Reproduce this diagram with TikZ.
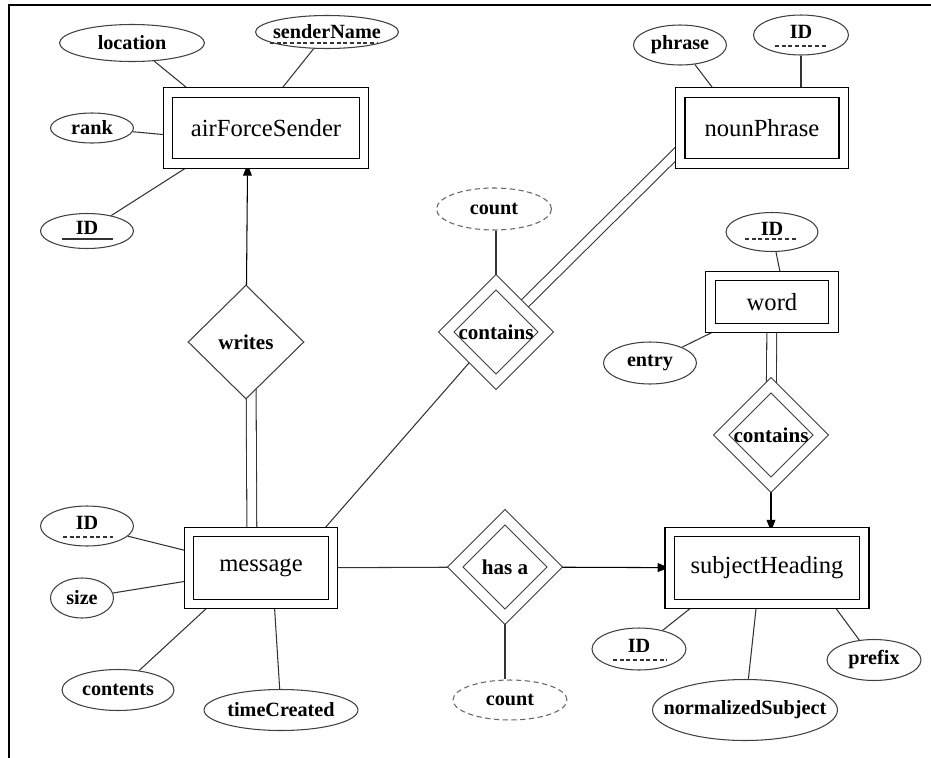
\documentclass[tikz,border=0pt]{standalone}
\usepackage{fontspec}
\setmainfont{Liberation Serif}
\usetikzlibrary{shapes.geometric,arrows.meta,backgrounds,calc}

\newcommand{\erlbl}[1]{\makebox[0pt]{#1}}
\newcommand{\erkey}[1]{\makebox[0pt]{\raisebox{-2pt}[0pt][0pt]{#1}}}

\tikzset{
  entity/.style={rectangle, draw=black, line width=0.8pt, double, double distance=4.6pt, fill=white, inner sep=0pt, font=\fontsize{14}{16}\selectfont},
  attr/.style={ellipse, draw=black!75, line width=0.6pt, fill=white, inner sep=0pt, font=\fontsize{11.5}{13}\bfseries},
  derived/.style={attr, draw=black!60, dash pattern=on 3pt off 2pt},
  rel/.style={diamond, draw=black!75, line width=0.6pt, fill=white, inner sep=0pt, minimum width=2.32cm, minimum height=2.28cm, font=\fontsize{12}{14}\bfseries},
  weakrel/.style={rel, double, double distance=5.6pt, minimum width=2cm, minimum height=2cm},
  link/.style={draw=black!80, line width=0.6pt},
  total/.style={link, double, double distance=5pt},
  arr/.style={link, draw=black, -{Triangle[length=6.5pt,width=5pt]}},
  keyline/.style={draw=black!80, line width=0.6pt},
  partline/.style={keyline, dash pattern=on 2.2pt off 1.6pt}
}

\begin{document}
\begin{tikzpicture}[x=0.02cm, y=-0.02cm]

    \useasboundingbox (0,0) rectangle (931,758);

    % frame on top and left
    \draw[line width=1.3pt] (9,758) -- (9,5) -- (931,5);

    % entities

    \node[entity, minimum width=3.92cm, minimum height=1.42cm] (sender) at (266,128) {airForceSender};
    \node[entity, minimum width=2.88cm, minimum height=1.44cm] (msg) at (261,568) {message};
    \node[entity, minimum width=3.89cm, minimum height=1.44cm] (subj) at (767,568) {subjectHeading};
    \node[entity, minimum width=3.27cm, minimum height=1.42cm] (np) at (762,128) {nounPhrase};
    \node[entity, minimum width=2.46cm, minimum height=1.04cm] (word) at (772,302) {word};

    % relationships

    \node[rel] (writes) at (246,342) {\erlbl{writes}};
    \node[weakrel] (hasa) at (505,567) {\erlbl{has a}};
    \node[weakrel] (cont1) at (496,332) {\erlbl{contains}};
    \node[weakrel] (cont2) at (771,435) {\erlbl{contains}};

    % attributes of airForceSender

    \node[attr, minimum width=2.9cm, minimum height=0.74cm] (loc) at (132,43) {\erlbl{location}};
    \node[attr, minimum width=2.86cm, minimum height=0.66cm] (sname) at (327,32) {\erlbl{senderName}};
    \node[attr, minimum width=1.66cm, minimum height=0.6cm] (rank) at (92,128) {\erlbl{rank}};
    \node[attr, minimum width=1.86cm, minimum height=0.7cm] (sid) at (87,231) {\erkey{ID}};

    % attributes of message

    \node[attr, minimum width=1.86cm, minimum height=0.8cm] (mid) at (87,526) {\erkey{ID}};
    \node[attr, minimum width=1.26cm, minimum height=0.8cm] (size) at (82,598) {\erlbl{size}};
    \node[attr, minimum width=2.24cm, minimum height=0.82cm] (cnts) at (118,690) {\erlbl{contents}};
    \node[attr, minimum width=3.08cm, minimum height=0.82cm] (tcr) at (281,710) {\erlbl{timeCreated}};

    % attributes of subjectHeading

    \node[attr, minimum width=1.88cm, minimum height=0.84cm] (hid) at (639,649) {\erkey{ID}};
    \node[attr, minimum width=3.7cm, minimum height=1.22cm] (norm) at (745,710) {\erlbl{normalizedSubject}};
    \node[attr, minimum width=1.88cm, minimum height=0.82cm] (pref) at (874,660) {\erlbl{prefix}};

    % attributes of nounPhrase and word

    \node[attr, minimum width=1.86cm, minimum height=0.8cm] (phr) at (680,45) {\erlbl{phrase}};
    \node[attr, minimum width=1.9cm, minimum height=0.8cm] (nid) at (801,35) {\erkey{ID}};
    \node[attr, minimum width=1.84cm, minimum height=0.78cm] (wid) at (772,232) {\erkey{ID}};
    \node[attr, minimum width=1.86cm, minimum height=0.84cm] (entry) at (650,363) {\erlbl{entry}};

    % derived counts

    \node[derived, minimum width=2.3cm, minimum height=0.84cm] (cnt1) at (494,209) {\erlbl{count}};
    \node[derived, minimum width=2.28cm, minimum height=0.8cm] (cnt2) at (510,700) {\erlbl{count}};

    % key underlines

    \draw [keyline]($(sid)+(-25,8)$) -- ++(51,0);
    \draw [partline]($(mid)+(-24,11)$) -- ++(50,0);
    \draw [partline]($(hid)+(-26,11)$) -- ++(54,0);
    \draw [partline]($(nid)+(-26,11)$) -- ++(53,0);
    \draw [partline]($(wid)+(-27,7)$) -- ++(53,0);
    \draw [partline]($(sname)+(-57,11)$) -- ++(108,0);

    % connectors

    \begin{scope}[on background layer]
    \draw [link](loc) -- (sender.154);
    \draw [link](sname) -- (sender.70);
    \draw [link](rank) -- (sender.184);
    \draw [link](sid) -- (sender.206);
    \draw [arr](writes) -- (sender.243);
    \draw [total]([xshift=2.8pt]writes.center) -- (msg.104);

    \draw [link](mid) -- (msg.167);
    \draw [link](size) -- (msg.190);
    \draw [link](cnts) -- (msg.216);
    \draw [link](tcr) -- (msg.290);

    \draw [link](msg) -- (hasa);
    \draw [arr](hasa) -- (subj);
    \draw [link](hasa) -- (hasa |- cnt2.north);

    \draw [link](cont1) -- (msg.31);
    \draw [link](cont1) -- (cont1 |- cnt1.south);
    \draw [total](cont1) -- (np.195);

    \draw [link](phr) -- (np.142);
    \draw [link](nid) -- (nid |- np.north);
    \draw [link](wid) -- (word.72);
    \draw [link](entry) -- (word.207);
    \draw [total](word) -- (cont2);
    \draw [arr](cont2) -- (cont2 |- subj.north);

    \draw [link](hid) -- (subj.207);
    \draw [link](norm) -- (subj.254);
    \draw [link](pref) -- (subj.331);
    \end{scope}

\end{tikzpicture}
\end{document}
